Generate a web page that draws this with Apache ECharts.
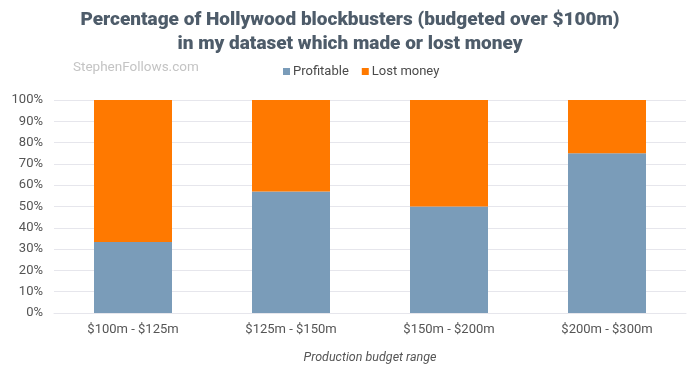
<!DOCTYPE html>
<html>
<head>
<meta charset="utf-8">
<script src="https://cdn.jsdelivr.net/npm/echarts@6/dist/echarts.min.js"></script>
<style>
html,body{margin:0;padding:0;background:#fff;}
#chart{width:700px;height:372px;}
</style>
</head>
<body>
<div id="chart"></div>
<script>
var categories = ['$100m - $125m', '$125m - $150m', '$150m - $200m', '$200m - $300m'];
var profitable = [33.3, 57.1, 50.0, 75.0];
var lostMoney = [66.7, 42.9, 50.0, 25.0];
var seriesNames = ['Profitable', 'Lost money'];

var chart = echarts.init(document.getElementById('chart'), null, {renderer: 'canvas'});
var font = 'Roboto, "Liberation Sans", sans-serif';
chart.setOption({
  animation: false,
  textStyle: {fontFamily: font},
  title: {
    text: 'Percentage of Hollywood blockbusters (budgeted over $100m)\nin my dataset which made or lost money',
    left: 'center',
    top: 3,
    textStyle: {fontFamily: font, fontSize: 19, fontWeight: 900, color: '#4e5c6a', lineHeight: 24}
  },
  graphic: [{
    type: 'text',
    left: 73,
    top: 61,
    style: {text: 'StephenFollows.com', fill: '#c4c4c4', font: '13.5px Roboto, sans-serif'}
  }],
  legend: {
    data: seriesNames,
    left: 278,
    top: 60,
    icon: 'rect',
    itemWidth: 7,
    itemHeight: 7,
    itemGap: 13,
    textStyle: {fontFamily: font, fontSize: 13, color: '#4a4a4a', padding: [0, 0, 0, -2]}
  },
  grid: {left: 54, right: 14, top: 100, bottom: 59},
  xAxis: {
    type: 'category',
    data: categories,
    axisTick: {show: false},
    axisLine: {lineStyle: {color: '#e6e6ec'}},
    axisLabel: {color: '#555', fontSize: 13, margin: 10, fontFamily: font},
    name: 'Production budget range',
    nameLocation: 'middle',
    nameGap: 38,
    nameTextStyle: {fontStyle: 'italic', color: '#555', fontSize: 12.5, fontFamily: font}
  },
  yAxis: {
    type: 'value',
    min: 0,
    max: 100,
    interval: 10,
    axisLabel: {formatter: '{value}%', color: '#555', fontSize: 13, margin: 11, fontFamily: font},
    axisLine: {show: false},
    axisTick: {show: false},
    splitLine: {lineStyle: {color: '#e6e6ec'}}
  },
  series: [
    {
      name: seriesNames[0],
      type: 'bar',
      stack: 'total',
      barWidth: 78,
      data: profitable,
      itemStyle: {color: '#7a9cb9'}
    },
    {
      name: seriesNames[1],
      type: 'bar',
      stack: 'total',
      barWidth: 78,
      data: lostMoney,
      itemStyle: {color: '#ff7900'}
    }
  ]
});
</script>
</body>
</html>
